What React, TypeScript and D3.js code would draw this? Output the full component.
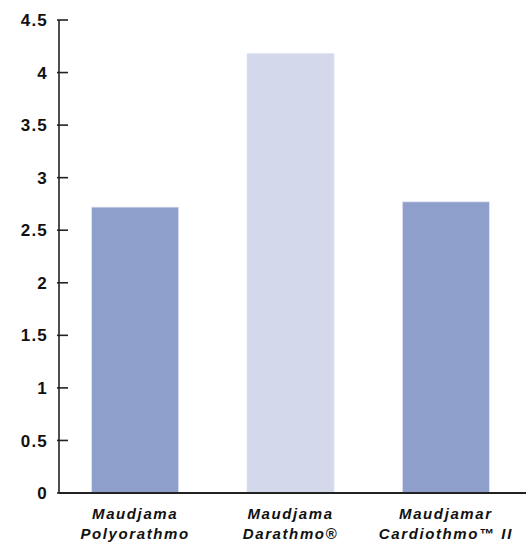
import React from "react";
import * as d3 from "d3";

const categories = ["Maudjama\nPolyorathmo", "Maudjama\nDarathmo®", "Maudjamar\nCardiothmo™ II"];
const values = [2.72, 4.18, 2.77];
const barColors = ["#8f9fcc", "#d3d8eb", "#8f9fcc"];
const yTicks = [0, 0.5, 1, 1.5, 2, 2.5, 3, 3.5, 4, 4.5];

const W = 527;
const H = 544;
const axisX = 59;
const x0 = 59;
const x1 = 522;
const yBottom = 493;
const yTop = 20;

export default function App() {
  const x = d3
    .scaleBand<number>()
    .domain(categories.map((_, i) => i))
    .range([x0, x1])
    .paddingInner(0.44)
    .paddingOuter(0.21);
  const y = d3.scaleLinear().domain([0, 4.5]).range([yBottom, yTop]);
  const font = "'Liberation Sans', Arial, sans-serif";
  return (
    <svg
      width={W}
      height={H}
      style={{ position: "absolute", left: 0, top: 0, background: "#fff" }}
    >
      {values.map((v, i) => (
        <rect
          key={i}
          x={x(i)}
          y={y(v)}
          width={x.bandwidth()}
          height={y(0) - y(v)}
          fill={barColors[i]}
          stroke="#dfe3f2"
          strokeWidth={0.8}
        />
      ))}
      <line x1={axisX} x2={axisX} y1={y(4.5)} y2={y(0)} stroke="#222" strokeWidth={1.6} />
      <line x1={axisX} x2={526} y1={y(0)} y2={y(0)} stroke="#222" strokeWidth={1.8} />
      {yTicks.map((t) => (
        <g key={t}>
          <line x1={axisX - 2} x2={axisX + 9} y1={y(t)} y2={y(t)} stroke="#222" strokeWidth={1.6} />
          <text
            x={48}
            y={y(t)}
            dy="0.36em"
            textAnchor="end"
            fontFamily={font}
            fontWeight="bold"
            fontSize={17}
            letterSpacing={1.2}
            fill="#111"
          >
            {t === 0 ? "0" : String(t)}
          </text>
        </g>
      ))}
      {categories.map((c, i) => {
        const cx = (x(i) as number) + x.bandwidth() / 2;
        return (
          <text
            key={i}
            x={cx}
            textAnchor="middle"
            fontFamily={font}
            fontWeight="bold"
            fontStyle="italic"
            fontSize={15}
            letterSpacing={1.6}
            fill="#111"
          >
            {c.split("\n").map((line, j) => (
              <tspan key={j} x={cx} y={519 + j * 20}>
                {line}
              </tspan>
            ))}
          </text>
        );
      })}
    </svg>
  );
}
